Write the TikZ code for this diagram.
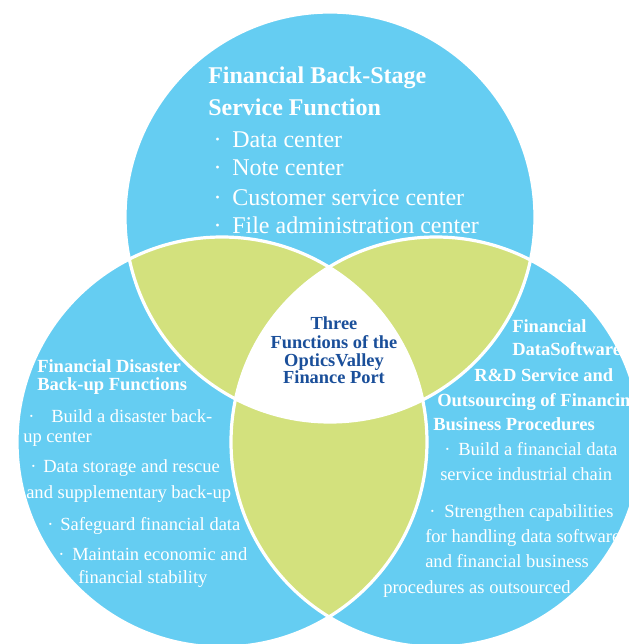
\documentclass[tikz,border=0pt]{standalone}
\usepackage{fontspec}
\setmainfont{Liberation Serif}
\definecolor{vennblue}{HTML}{65CDF2}
\definecolor{venngreen}{HTML}{D3E17D}
\definecolor{hubnavy}{HTML}{1A4F9A}
\newcommand\itemdot[1]{\llap{·\hspace{#1}}}

\begin{document}
\begin{tikzpicture}[x=0.75pt,y=-0.75pt,
  rim/.style={draw=white, line width=2.4pt},
  bigtitle/.style={anchor=base west, inner sep=0pt, text=white, font=\bfseries\fontsize{18}{20}\selectfont},
  bigitem/.style={anchor=base west, inner sep=0pt, text=white, font=\fontsize{18}{20}\selectfont},
  subtitle/.style={anchor=base west, inner sep=0pt, text=white, font=\bfseries\fontsize{13.9}{16}\selectfont},
  subitem/.style={anchor=base west, inner sep=0pt, text=white, font=\fontsize{13.9}{16}\selectfont},
  hubtext/.style={anchor=base, inner sep=0pt, text=hubnavy, font=\bfseries\fontsize{13.8}{16}\selectfont}]
\clip (0,0) rectangle (629,644);

\coordinate (ctop) at (330,217);
\coordinate (cleft) at (222,442);
\coordinate (cright) at (436,442);

% three circles
\fill[vennblue] (ctop) circle (205);
\fill[vennblue] (cleft) circle (205);
\fill[vennblue] (cright) circle (205);

% pairwise overlaps
\begin{scope}
\clip (ctop) circle (205);
\fill[venngreen] (cleft) circle (205);
\fill[venngreen] (cright) circle (205);
\end{scope}
\begin{scope}
\clip (cleft) circle (205);
\fill[venngreen] (cright) circle (205);
\end{scope}

% common part
\begin{scope}
\clip (ctop) circle (205);
\clip (cleft) circle (205);
\fill[white] (cright) circle (205);
\end{scope}

\draw[rim] (ctop) circle (205);
\draw[rim] (cleft) circle (205);
\draw[rim] (cright) circle (205);

% top circle
\foreach \x/\y/\t [count=\i] in {208/83/{Financial Back-Stage}, 208/115/{Service Function}}
  \node[bigtitle] (toptitle-\i) at (\x,\y) {\t};
\foreach \x/\y/\t [count=\i] in {232/147/{\itemdot{8pt}Data center},
    232/175/{\itemdot{8pt}Note center},
    232/205/{\itemdot{8pt}Customer service center},
    232/233/{\itemdot{8pt}File administration center}}
  \node[bigitem] (topitem-\i) at (\x,\y) {\t};

% left circle
\foreach \x/\y/\t [count=\i] in {37/372/{Financial Disaster}, 37/390/{Back-up Functions}}
  \node[subtitle] (lefttitle-\i) at (\x,\y) {\t};
\foreach \x/\y/\t [count=\i] in {51/422/{\itemdot{12.5pt}Build a disaster back-},
    23/442/{up center},
    43/472/{\itemdot{5pt}Data storage and rescue},
    26/498/{and supplementary back-up},
    60/530/{\itemdot{5pt}Safeguard financial data},
    72/560/{\itemdot{5.8pt}Maintain economic and},
    78/583/{financial stability}}
  \node[subitem] (leftitem-\i) at (\x,\y) {\t};

% right circle
\foreach \x/\y/\t [count=\i] in {512/332/{Financial}, 512/355/{DataSoftware},
    474/381/{R\&D Service and}, 437/406/{Outsourcing of Financing},
    433/430/{Business Procedures}}
  \node[subtitle] (righttitle-\i) at (\x,\y) {\t};
\foreach \x/\y/\t [count=\i] in {458/455/{\itemdot{5.8pt}Build a financial data},
    440/480/{service industrial chain},
    444/517/{\itemdot{6.5pt}Strengthen capabilities},
    425/542/{for handling data software},
    425/567/{and financial business},
    383/593/{procedures as outsourced}}
  \node[subitem] (rightitem-\i) at (\x,\y) {\t};

% centre
\foreach \y/\t [count=\i] in {329/{Three}, 348/{Functions of the}, 366/{OpticsValley}, 383/{Finance Port}}
  \node[hubtext] (hub-\i) at (334,\y) {\t};
\end{tikzpicture}
\end{document}
